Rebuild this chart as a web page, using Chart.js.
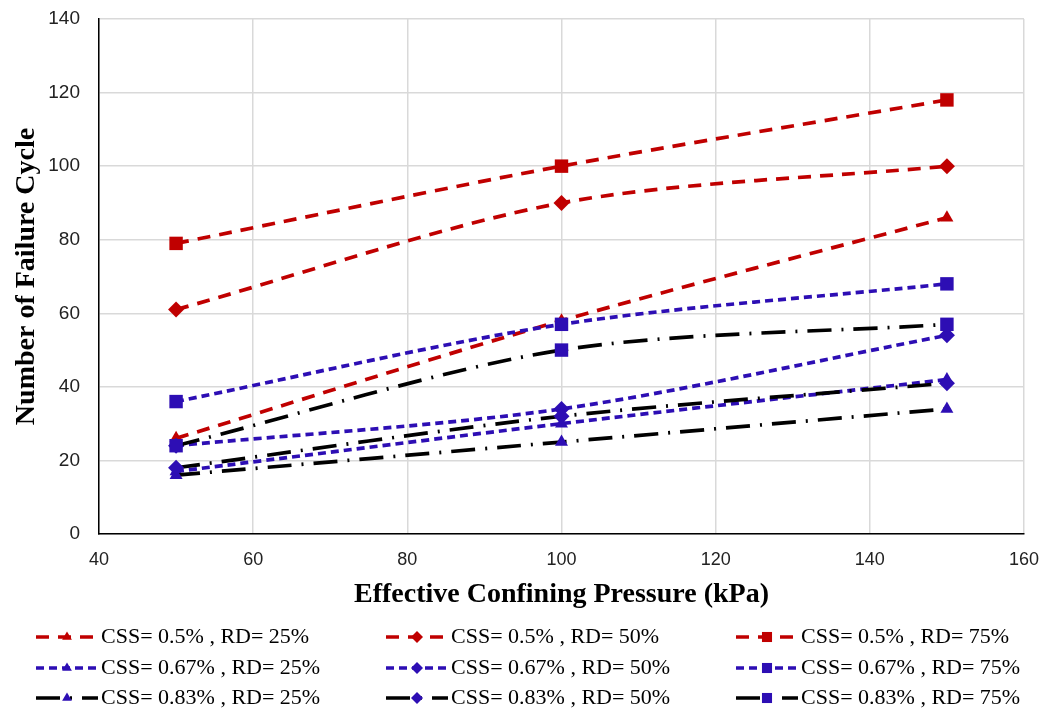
<!DOCTYPE html>
<html>
<head>
<meta charset="utf-8">
<script src="https://cdn.jsdelivr.net/npm/chart.js@4"></script>
<style>
  body { margin: 0; background: #fff; }
  #wrap { width: 1052px; height: 711px; position: relative; }
</style>
</head>
<body>
<div id="wrap"><canvas id="chart"></canvas></div>
<script>
// Effective confining pressure (kPa)
const pressure = [50, 100, 150];

// Number of failure cycles
const css05_rd25 = [26, 58, 86];
const css05_rd50 = [61, 90, 100];
const css05_rd75 = [79, 100, 118];
const css067_rd25 = [17, 30, 42];
const css067_rd50 = [24, 34, 54];
const css067_rd75 = [36, 57, 68];
const css083_rd25 = [16, 25, 34];
const css083_rd50 = [18, 32, 41];
const css083_rd75 = [24, 50, 57];

const seriesLabels = [
  'CSS= 0.5% , RD= 25%', 'CSS= 0.5% , RD= 50%', 'CSS= 0.5% , RD= 75%',
  'CSS= 0.67% , RD= 25%', 'CSS= 0.67% , RD= 50%', 'CSS= 0.67% , RD= 75%',
  'CSS= 0.83% , RD= 25%', 'CSS= 0.83% , RD= 50%', 'CSS= 0.83% , RD= 75%'
];
const seriesValues = [
  css05_rd25, css05_rd50, css05_rd75,
  css067_rd25, css067_rd50, css067_rd75,
  css083_rd25, css083_rd50, css083_rd75
];

const RED = '#C00000';
const BLUE = '#2D0EB4';
const BLACK = '#000000';

// line style per CSS group, marker per RD
const lineStyles = [
  { color: RED, dash: [13, 9] },
  { color: BLUE, dash: [8, 5] },
  { color: BLACK, dash: [24, 10, 2, 10] }
];
const markers = [
  { style: 'triangle', radius: 7.5 },
  { style: 'rectRot', radius: 8 },
  { style: 'rect', radius: 9.5 }
];
const markerColors = [RED, BLUE, BLUE];

const datasets = seriesValues.map((vals, i) => {
  const g = Math.floor(i / 3), m = i % 3;
  return {
    label: seriesLabels[i],
    data: pressure.map((p, k) => ({ x: p, y: vals[k] })),
    order: seriesValues.length - i, // later series on top, like Excel
    borderColor: lineStyles[g].color,
    borderDash: lineStyles[g].dash,
    borderWidth: 3.7,
    borderCapStyle: 'butt',
    pointStyle: markers[m].style,
    pointRadius: markers[m].radius,
    pointBackgroundColor: markerColors[g],
    pointBorderColor: markerColors[g],
    pointBorderWidth: 0,
    tension: 0.3,
    fill: false
  };
});

// legend drawn as a 3x3 grid under the plot
const gridLegend = {
  id: 'gridLegend',
  afterDraw(chart) {
    const ctx = chart.ctx;
    const colX = [36, 386, 736];
    const rowY = [637, 668, 698];
    chart.data.datasets.forEach((ds, i) => {
      const x0 = colX[i % 3], y = rowY[Math.floor(i / 3)];
      ctx.save();
      ctx.strokeStyle = ds.borderColor;
      ctx.lineWidth = 3.5;
      ctx.setLineDash(ds.borderDash);
      ctx.beginPath();
      ctx.moveTo(x0, y);
      ctx.lineTo(x0 + 62, y);
      ctx.stroke();
      ctx.setLineDash([]);
      ctx.fillStyle = ds.pointBackgroundColor;
      Chart.helpers.drawPoint(ctx, {
        pointStyle: ds.pointStyle, radius: ds.pointRadius * 0.75, rotation: 0, borderWidth: 0
      }, x0 + 31, y);
      ctx.fillStyle = '#000';
      ctx.font = '22px "Liberation Serif", "Times New Roman", serif';
      ctx.textBaseline = 'middle';
      ctx.fillText(ds.label, x0 + 65, y);
      ctx.restore();
    });
  }
};

new Chart(document.getElementById('chart'), {
  type: 'line',
  data: { datasets: datasets },
  options: {
    responsive: true,
    maintainAspectRatio: false,
    animation: false,
    layout: { padding: { top: 19, right: 28, bottom: 97, left: 0 } },
    scales: {
      x: {
        type: 'linear',
        min: 40,
        max: 160,
        afterFit: s => { s.height = 80; s.paddingLeft = 0; s.paddingRight = 0; },
        ticks: {
          stepSize: 20,
          padding: 15,
          color: '#222',
          font: { family: '"Liberation Sans Narrow", "Liberation Sans", sans-serif', size: 18 }
        },
        grid: { color: '#d9d9d9', lineWidth: 1.5, drawTicks: false },
        border: { color: '#000', width: 1.5 },
        title: {
          display: true,
          text: 'Effective Confining Pressure (kPa)',
          color: '#000',
          font: { family: '"Liberation Serif", "Times New Roman", serif', size: 28, weight: 'bold' },
          padding: { top: 2, bottom: 2 }
        }
      },
      y: {
        min: 0,
        max: 140,
        afterFit: s => { s.width = 99; s.paddingTop = 0; s.paddingBottom = 0; },
        ticks: {
          stepSize: 20,
          padding: 19,
          color: '#222',
          font: { family: '"Liberation Sans", sans-serif', size: 19 }
        },
        grid: { color: '#d9d9d9', lineWidth: 1.5, drawTicks: false },
        border: { color: '#000', width: 1.5 },
        title: {
          display: true,
          text: 'Number of Failure Cycle',
          color: '#000',
          font: { family: '"Liberation Serif", "Times New Roman", serif', size: 28, weight: 'bold' },
          padding: { top: 10, bottom: 0 }
        }
      }
    },
    plugins: {
      legend: { display: false },
      tooltip: { enabled: false }
    }
  },
  plugins: [gridLegend]
});
</script>
</body>
</html>
